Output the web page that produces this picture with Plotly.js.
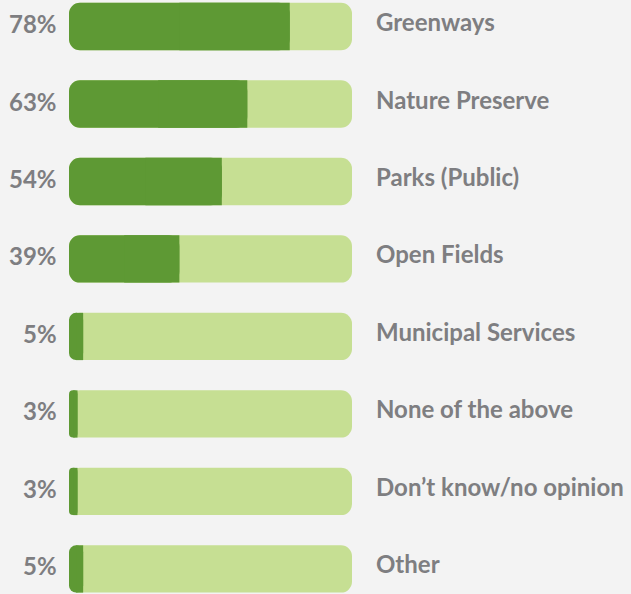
<!DOCTYPE html>
<html><head><meta charset="utf-8">
<script src="https://cdn.plot.ly/plotly-3.0.1.min.js"></script>
<style>html,body{margin:0;padding:0;background:#f3f3f3;}#chart{width:631px;height:594px;}</style>
</head><body><div id="chart"></div>
<script>
var categories = ["Greenways","Nature Preserve","Parks (Public)","Open Fields","Municipal Services","None of the above","Don\u2019t know/no opinion","Other"];
var values = [78,63,54,39,5,3,3,5];
var trackMax = 100;

var idx = categories.map(function(_, i){ return i; });
var BW = 0.61;
var R = 11;
var DARK = "#5e9934", LIGHT = "#c6df93", TXT = "#7e7e81";
var FONT = "Lato, 'Open Sans', sans-serif";

// light track, rounded at both ends (bars with an explicit base are rounded on both ends)
var track = {type:"bar", orientation:"h", y:idx, x:idx.map(function(){return trackMax;}),
  base:idx.map(function(){return 0;}), width:BW,
  marker:{color:LIGHT, cornerradius:R}, hoverinfo:"skip"};
// value bar, rounded on both ends
var valueBar = {type:"bar", orientation:"h", y:idx, x:values,
  base:idx.map(function(){return 0;}), width:BW,
  marker:{color:DARK, cornerradius:R}, hoverinfo:"skip"};
// square cover over the right half of the value bar so its end is flat
var valueEnd = {type:"bar", orientation:"h", y:idx, x:values.map(function(v){return v/2;}),
  base:values.map(function(v){return v/2;}), width:BW,
  marker:{color:DARK, cornerradius:0}, hoverinfo:"skip"};

var annotations = [];
categories.forEach(function(c, i){
  annotations.push({xref:"x", yref:"y", x:trackMax, y:i, text:c, showarrow:false,
    xanchor:"left", yanchor:"middle", xshift:22, yshift:5,
    font:{family:FONT, size:24, color:TXT, weight:"bold"}});
  annotations.push({xref:"x", yref:"y", x:0, y:i, text:values[i] + "%", showarrow:false,
    xanchor:"right", yanchor:"middle", xshift:-10, yshift:3,
    font:{family:FONT, size:24, color:TXT, weight:"bold"}});
});

var layout = {
  width:631, height:594,
  margin:{l:69, r:279, t:0, b:0, pad:0},
  paper_bgcolor:"#f3f3f3", plot_bgcolor:"#f3f3f3",
  barmode:"overlay", showlegend:false,
  xaxis:{range:[0,trackMax], visible:false, fixedrange:true},
  yaxis:{range:[7.323,-0.342], visible:false, fixedrange:true},
  annotations:annotations
};
Plotly.newPlot("chart", [track, valueBar, valueEnd], layout, {displayModeBar:false, staticPlot:true});
</script></body></html>
